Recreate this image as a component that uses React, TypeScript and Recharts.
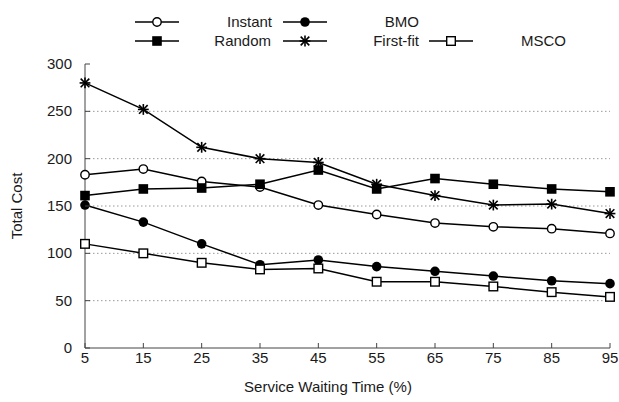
import { LineChart, Line, XAxis, YAxis, ReferenceLine, Label } from 'recharts';

const waitingTime = [5, 15, 25, 35, 45, 55, 65, 75, 85, 95];
const instant = [183, 189, 176, 170, 151, 141, 132, 128, 126, 121];
const bmo = [151, 133, 110, 88, 93, 86, 81, 76, 71, 68];
const random = [161, 168, 169, 173, 188, 168, 179, 173, 168, 165];
const firstFit = [280, 252, 212, 200, 196, 173, 161, 151, 152, 142];
const msco = [110, 100, 90, 83, 84, 70, 70, 65, 59, 54];
const yTicks = [0, 50, 100, 150, 200, 250, 300];

const chartData = waitingTime.map((t, i) => ({
  t,
  instant: instant[i],
  bmo: bmo[i],
  random: random[i],
  firstFit: firstFit[i],
  msco: msco[i],
}));

const FONT = '"Liberation Sans", Arial, Helvetica, sans-serif';
const TEXT = '#1a1a1a';
const FRAME = '#444';
const TICK_LEN = 5;

type MarkerKind = 'openCircle' | 'dot' | 'square' | 'star' | 'openSquare';

function Marker({ kind, cx, cy }: { kind: MarkerKind; cx: number; cy: number }) {
  switch (kind) {
    case 'openCircle':
      return <circle cx={cx} cy={cy} r={4.2} fill="#fff" stroke="#000" strokeWidth={1.4} />;
    case 'dot':
      return <circle cx={cx} cy={cy} r={4.8} fill="#000" />;
    case 'square':
      return <rect x={cx - 4.8} y={cy - 4.8} width={9.6} height={9.6} fill="#000" />;
    case 'openSquare':
      return (
        <rect x={cx - 4.3} y={cy - 4.3} width={8.6} height={8.6} fill="#fff" stroke="#000" strokeWidth={1.4} />
      );
    case 'star': {
      const r = 5.4;
      const d = r * 0.8;
      return (
        <g stroke="#000" strokeWidth={1.6}>
          <line x1={cx - r} y1={cy} x2={cx + r} y2={cy} />
          <line x1={cx} y1={cy - r} x2={cx} y2={cy + r} />
          <line x1={cx - d} y1={cy - d} x2={cx + d} y2={cy + d} />
          <line x1={cx - d} y1={cy + d} x2={cx + d} y2={cy - d} />
        </g>
      );
    }
  }
}

const dotFor = (kind: MarkerKind) => (props: any) => (
  <g key={`${kind}-${props.index}`}>
    <Marker kind={kind} cx={props.cx} cy={props.cy} />
  </g>
);

// gnuplot-style ticks: marks point into the plot box
const BottomTick = (props: any) => (
  <g>
    <line x1={props.x} y1={props.y} x2={props.x} y2={props.y - TICK_LEN} stroke={FRAME} />
    <text x={props.x} y={props.y + 15} textAnchor="middle" fontSize={15} fill={TEXT} fontFamily={FONT}>
      {props.payload.value}
    </text>
  </g>
);

const TopTick = (props: any) => (
  <line x1={props.x} y1={props.y} x2={props.x} y2={props.y + TICK_LEN} stroke={FRAME} />
);

const LeftTick = (props: any) => (
  <g>
    <line x1={props.x} y1={props.y} x2={props.x + TICK_LEN} y2={props.y} stroke={FRAME} />
    <text x={props.x - 13} y={props.y + 5} textAnchor="end" fontSize={15} fill={TEXT} fontFamily={FONT}>
      {props.payload.value}
    </text>
  </g>
);

const RightTick = (props: any) => (
  <line x1={props.x} y1={props.y} x2={props.x - TICK_LEN} y2={props.y} stroke={FRAME} />
);

const legendItems: { kind: MarkerKind; label: string; x: number; y: number; textEnd: number }[] = [
  { kind: 'openCircle', label: 'Instant', x: 135, y: 22, textEnd: 272 },
  { kind: 'dot', label: 'BMO', x: 283, y: 22, textEnd: 419 },
  { kind: 'square', label: 'Random', x: 135, y: 41, textEnd: 271 },
  { kind: 'star', label: 'First-fit', x: 283, y: 41, textEnd: 419 },
  { kind: 'openSquare', label: 'MSCO', x: 429, y: 41, textEnd: 566 },
];

function KeyBox() {
  return (
    <svg width={619} height={56} style={{ position: 'absolute', left: 0, top: 0, pointerEvents: 'none' }}>
      {legendItems.map((it) => (
        <g key={it.label}>
          <line x1={it.x} y1={it.y} x2={it.x + 44} y2={it.y} stroke="#000" strokeWidth={1.5} />
          <Marker kind={it.kind} cx={it.x + 22} cy={it.y} />
          <text x={it.textEnd} y={it.y + 5} textAnchor="end" fontSize={15} fill={TEXT} fontFamily={FONT}>
            {it.label}
          </text>
        </g>
      ))}
    </svg>
  );
}

const series: { key: string; kind: MarkerKind }[] = [
  { key: 'instant', kind: 'openCircle' },
  { key: 'bmo', kind: 'dot' },
  { key: 'random', kind: 'square' },
  { key: 'firstFit', kind: 'star' },
  { key: 'msco', kind: 'openSquare' },
];

export default function App() {
  return (
    <div style={{ position: 'absolute', left: 0, top: 0, width: 619, height: 402, background: '#fff' }}>
      <LineChart width={619} height={402} data={chartData} margin={{ top: 64, right: 9, bottom: 0, left: 10 }}>
        <XAxis
          dataKey="t"
          type="number"
          domain={[5, 95]}
          ticks={waitingTime}
          height={54}
          tickSize={0}
          tickMargin={0}
          tick={<BottomTick />}
          axisLine={{ stroke: FRAME }}
        >
          <Label
            content={() => (
              <text x={328} y={392} textAnchor="middle" fontSize={15} fill={TEXT} fontFamily={FONT}>
                Service Waiting Time (%)
              </text>
            )}
          />
        </XAxis>
        <XAxis
          xAxisId="top"
          orientation="top"
          dataKey="t"
          type="number"
          domain={[5, 95]}
          ticks={waitingTime}
          height={0}
          tickSize={0}
          tickMargin={0}
          tick={<TopTick />}
          axisLine={{ stroke: FRAME }}
        />
        <YAxis
          type="number"
          domain={[0, 300]}
          ticks={yTicks}
          width={75}
          tickSize={0}
          tickMargin={0}
          tick={<LeftTick />}
          axisLine={{ stroke: FRAME }}
        >
          <Label
            content={() => (
              <text
                x={22}
                y={206}
                transform="rotate(-90 22 206)"
                textAnchor="middle"
                fontSize={15}
                fill={TEXT}
                fontFamily={FONT}
              >
                Total Cost
              </text>
            )}
          />
        </YAxis>
        <YAxis
          yAxisId="right"
          orientation="right"
          type="number"
          domain={[0, 300]}
          ticks={yTicks}
          width={0}
          tickSize={0}
          tickMargin={0}
          tick={<RightTick />}
          axisLine={{ stroke: FRAME }}
        />
        {yTicks.slice(1, -1).map((v) => (
          <ReferenceLine key={v} y={v} stroke="#999" strokeWidth={1} strokeDasharray="1.5 2.5" />
        ))}
        {series.map((s) => (
          <Line
            key={s.key}
            dataKey={s.key}
            stroke="#000"
            strokeWidth={1.5}
            dot={dotFor(s.kind)}
            activeDot={false}
            isAnimationActive={false}
          />
        ))}
      </LineChart>
      <KeyBox />
    </div>
  );
}
